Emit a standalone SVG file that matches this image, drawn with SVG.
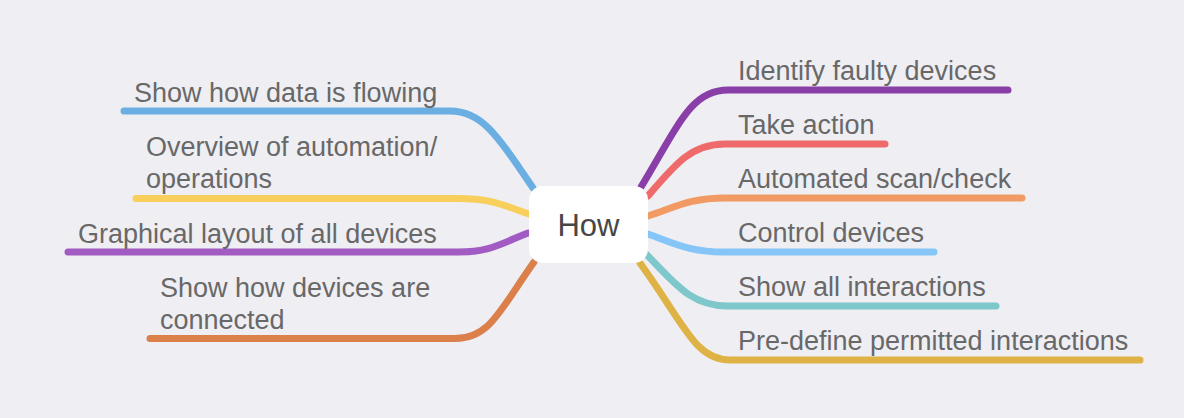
<svg xmlns="http://www.w3.org/2000/svg" width="1184" height="418" viewBox="0 0 1184 418">
<style>
.bg{fill:#efeef3}
.c{fill:none;stroke-width:7;stroke-linecap:round;stroke-linejoin:round}
.t{font-family:"Liberation Sans",Arial,sans-serif;font-size:27px;fill:#686868}
.root{font-family:"Liberation Sans",Arial,sans-serif;font-size:31px;fill:#474747}
</style>
<rect class="bg" x="0" y="0" width="1184" height="418"/>
<g id="connectors">
<path class="c" stroke="#6aaee2" d="M 533 188 C 497 135, 482 111, 450 111 L 124 111"/>
<path class="c" stroke="#f7cf5a" d="M 529 214 C 500 204, 490 198.5, 458 198.5 L 136 198.5"/>
<path class="c" stroke="#a35bc4" d="M 528 233 C 500 244, 490 252, 458 252 L 68 252"/>
<path class="c" stroke="#db7f4b" d="M 534 262 C 500 310, 490 338.5, 455 338.5 L 150 338.5"/>
<path class="c" stroke="#8a3fa8" d="M 641 187 C 680 122, 692 90, 728 90 L 1008 90"/>
<path class="c" stroke="#ef6b6b" d="M 648 196 C 676 163, 692 144, 725 144 L 885 144"/>
<path class="c" stroke="#f29a63" d="M 648 216 C 676 207, 690 198, 725 198 L 1022 198"/>
<path class="c" stroke="#85c5f8" d="M 648 234 C 676 244, 690 252, 725 252 L 934 252"/>
<path class="c" stroke="#7ec8cc" d="M 645 253 C 674 282, 690 306, 727 306 L 996 306"/>
<path class="c" stroke="#deb245" d="M 640 263 C 685 325, 695 360, 730 360 L 1140 360"/>
</g>
<g id="root">
<rect x="529" y="186" width="119" height="77" rx="14" ry="14" fill="#ffffff"/>
<text class="root" x="588.5" y="236" text-anchor="middle">How</text>
</g>
<g id="n-data-flowing"><text class="t" x="134" y="101.5">Show how data is flowing</text></g>
<g id="n-overview"><text class="t" x="146" y="156">Overview of automation/</text><text class="t" x="146" y="187.5">operations</text></g>
<g id="n-graphical"><text class="t" x="78" y="243">Graphical layout of all devices</text></g>
<g id="n-connected"><text class="t" x="160" y="297">Show how devices are</text><text class="t" x="160" y="329">connected</text></g>
<g id="n-faulty"><text class="t" x="738" y="80">Identify faulty devices</text></g>
<g id="n-action"><text class="t" x="738" y="134">Take action</text></g>
<g id="n-scan"><text class="t" x="738" y="188">Automated scan/check</text></g>
<g id="n-control"><text class="t" x="738" y="242">Control devices</text></g>
<g id="n-interactions"><text class="t" x="738" y="296">Show all interactions</text></g>
<g id="n-predefine"><text class="t" x="738" y="350">Pre-define permitted interactions</text></g>
</svg>
